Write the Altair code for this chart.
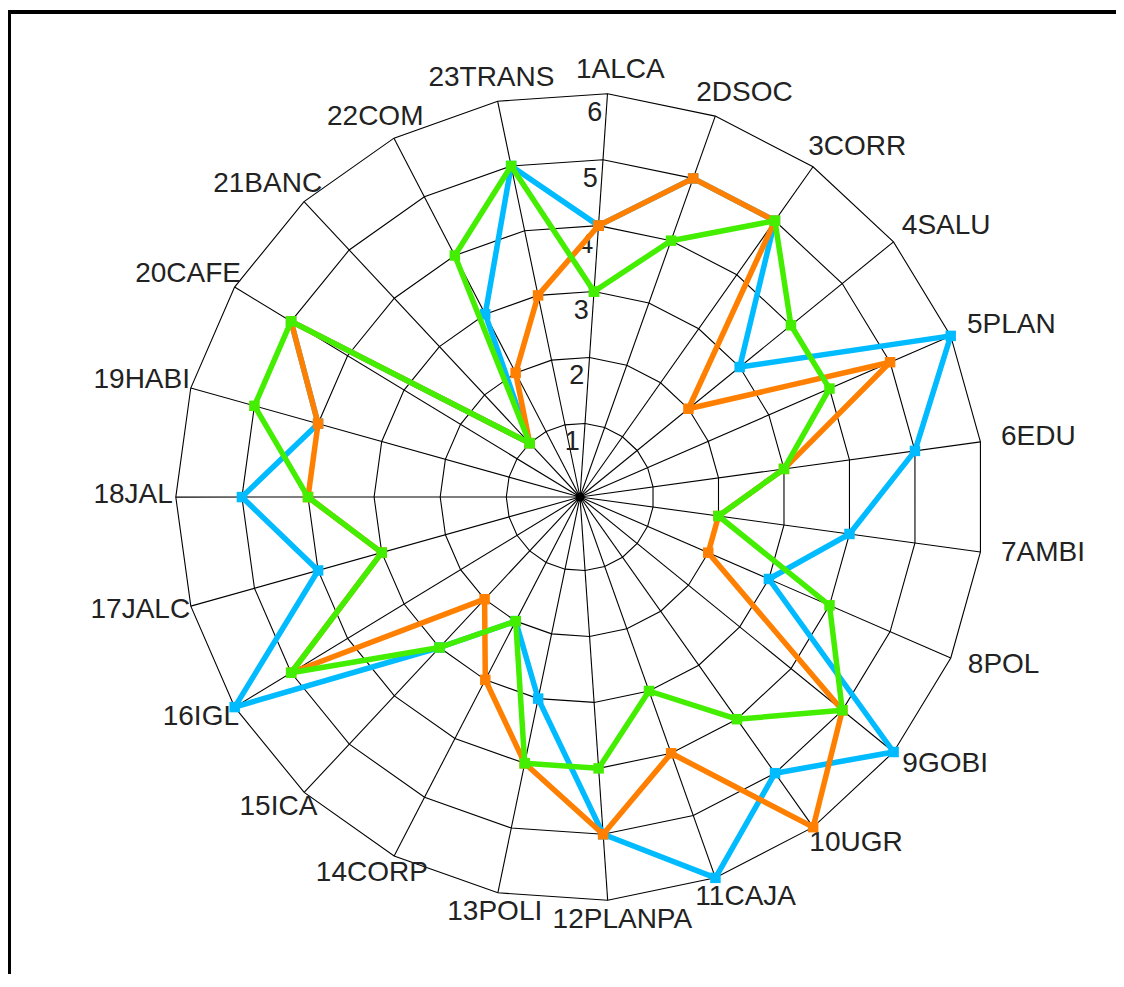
import math
import altair as alt
import pandas as pd

# ---------------- data ----------------
categories = ["1ALCA", "2DSOC", "3CORR", "4SALU", "5PLAN", "6EDU", "7AMBI", "8POL",
              "9GOBI", "10UGR", "11CAJA", "12PLANPA", "13POLI", "14CORP", "15ICA",
              "16IGL", "17JALC", "18JAL", "19HABI", "20CAFE", "21BANC", "22COM", "23TRANS"]
series_blue = [4, 5, 5, 3, 6, 5, 4, 3, 6, 5, 6, 5, 3, 2, 3, 6, 4, 5, 4, 5, 1, 3, 5]
series_orange = [4, 5, 5, 2, 5, 3, 2, 2, 5, 6, 4, 5, 4, 3, 2, 5, 3, 4, 4, 5, 1, 2, 3]
series_green = [3, 4, 5, 4, 4, 3, 2, 4, 5, 4, 3, 4, 4, 2, 3, 5, 3, 4, 5, 5, 1, 4, 5]
ring_values = [1, 2, 3, 4, 5, 6]
ring_labels = ["1", "2", "3", "4", "5", "6"]

series_names = ["Serie 1", "Serie 2", "Serie 3"]
series_colors = ["#00BBFF", "#FF7F00", "#44EE00"]

# ---------------- geometry / style ----------------
N = len(categories)
START_DEG = 3.9               # first spoke, clockwise from vertical
STEP_DEG = 360.0 / N
OFF = 0.115                   # radial offset of value 0
RMAX = 6
PX = 66.1                     # pixels per unit
W, H = 1108, 966
CX, CY = 572, 489             # centre inside plot area
XDOM = [-CX / PX, (W - CX) / PX]
YDOM = [-(H - CY) / PX, CY / PX]
FONT = "Liberation Sans"
FS = 28

xs = alt.Scale(domain=XDOM, nice=False, zero=False)
ys = alt.Scale(domain=YDOM, nice=False, zero=False)


def ang(i):
    return math.radians(START_DEG + i * STEP_DEG)


# Arial advance widths (per 1000 em) for label width estimates
AW = {**{d: 556 for d in "0123456789"}, "A": 667, "B": 667, "C": 722, "D": 722, "E": 667,
      "F": 611, "G": 778, "H": 722, "I": 278, "J": 500, "K": 667, "L": 556, "M": 833,
      "N": 722, "O": 778, "P": 667, "Q": 778, "R": 722, "S": 667, "T": 611, "U": 722}

# spokes
spokes = pd.DataFrame({"cat": categories, "a": [ang(i) for i in range(N)]})
spoke_chart = alt.Chart(spokes).transform_calculate(
    x0="0", y0="0",
    x1=f"{RMAX + OFF} * sin(datum.a)", y1=f"{RMAX + OFF} * cos(datum.a)"
).mark_rule(color="black", strokeWidth=1.1).encode(
    x=alt.X("x0:Q", scale=xs, axis=None), y=alt.Y("y0:Q", scale=ys, axis=None),
    x2="x1:Q", y2="y1:Q")

# rings (polygons)
ring_rows = []
for r in ring_values:
    for i in range(N + 1):
        ring_rows.append({"ring": r, "i": i, "a": ang(i % N)})
rings = pd.DataFrame(ring_rows)
ring_chart = alt.Chart(rings).transform_calculate(
    x=f"(datum.ring + {OFF}) * sin(datum.a)", y=f"(datum.ring + {OFF}) * cos(datum.a)"
).mark_line(color="black", strokeWidth=1.1).encode(
    x=alt.X("x:Q", scale=xs, axis=None), y=alt.Y("y:Q", scale=ys, axis=None),
    detail="ring:N", order="i:Q")

centre = alt.Chart(pd.DataFrame({"x": [0.0], "y": [0.0]})).mark_circle(
    color="black", opacity=1, size=80).encode(
    x=alt.X("x:Q", scale=xs, axis=None), y=alt.Y("y:Q", scale=ys, axis=None))

# ring tick labels along the first spoke
rl = pd.DataFrame({"v": ring_values, "t": ring_labels, "a": [ang(0)] * len(ring_values)})
ring_text = alt.Chart(rl).transform_calculate(
    x=f"(datum.v + {OFF} - 19/{PX}) * sin(datum.a)",
    y=f"(datum.v + {OFF} - 19/{PX}) * cos(datum.a)"
).mark_text(font=FONT, fontSize=27, align="right", baseline="middle", dx=-4,
            color="#222222").encode(
    x=alt.X("x:Q", scale=xs, axis=None), y=alt.Y("y:Q", scale=ys, axis=None), text="t:N")

# category labels
lab = pd.DataFrame({"cat": categories, "a": [ang(i) for i in range(N)],
                    "hw": [sum(AW.get(c, 600) for c in s) * FS / 2000 for s in categories]})
label_chart = alt.Chart(lab).transform_calculate(
    x=f"{RMAX + OFF} * sin(datum.a) + (sin(datum.a) * (datum.hw + 12) + 9) / {PX}",
    y=f"{RMAX + OFF} * cos(datum.a) + (cos(datum.a) * 22 + 2) / {PX}"
).mark_text(font=FONT, fontSize=FS, align="center", baseline="middle",
            color="#222222").encode(
    x=alt.X("x:Q", scale=xs, axis=None), y=alt.Y("y:Q", scale=ys, axis=None), text="cat:N")

# series
layers = [spoke_chart, ring_chart, centre, ring_text, label_chart]
for name, vals, col in zip(series_names, [series_blue, series_orange, series_green], series_colors):
    rows = [{"serie": name, "cat": categories[i % N], "v": vals[i % N], "i": i, "a": ang(i % N)}
            for i in range(N + 1)]
    df = pd.DataFrame(rows)
    base = alt.Chart(df).transform_calculate(
        x=f"(datum.v + {OFF}) * sin(datum.a)", y=f"(datum.v + {OFF}) * cos(datum.a)")
    line = base.mark_line(color=col, strokeWidth=5.5, strokeJoin="round").encode(
        x=alt.X("x:Q", scale=xs, axis=None), y=alt.Y("y:Q", scale=ys, axis=None),
        order="i:Q")
    pts = base.mark_square(color=col, opacity=1, size=110).encode(
        x=alt.X("x:Q", scale=xs, axis=None), y=alt.Y("y:Q", scale=ys, axis=None),
        tooltip=["serie:N", "cat:N", "v:Q"])
    layers += [line, pts]

# frame (top and left edges visible in the reference)
top_border = alt.Chart(pd.DataFrame({"k": [0]})).mark_rule(color="black", strokeWidth=4).encode(
    x=alt.value(0), x2=alt.value(W), y=alt.value(4))
left_border = alt.Chart(pd.DataFrame({"k": [0]})).mark_rule(color="black", strokeWidth=4).encode(
    x=alt.value(1), y=alt.value(2), y2=alt.value(H))
layers += [top_border, left_border]

chart = alt.layer(*layers).properties(
    width=W, height=H, padding=0, autosize=alt.AutoSizeParams(type="none"),
    background="white"
).configure_view(stroke="transparent")

chart.save("out.html", embed_options={"renderer": "svg", "actions": False})
